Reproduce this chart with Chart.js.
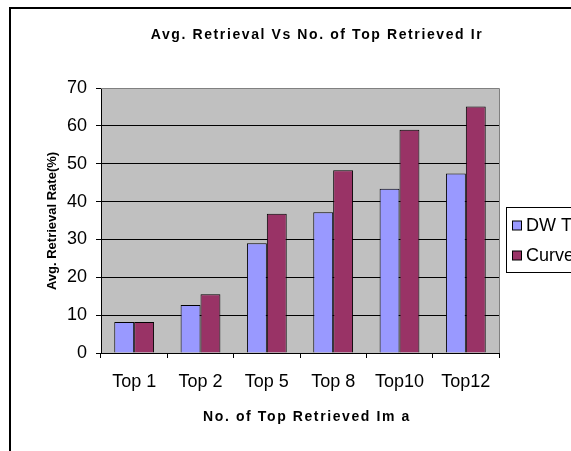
<!DOCTYPE html>
<html>
<head>
<meta charset="utf-8">
<script src="https://cdn.jsdelivr.net/npm/chart.js@4"></script>
<style>
  html, body { margin: 0; padding: 0; background: #fff; overflow: hidden; }
  #wrap { width: 571px; height: 451px; position: relative; }
</style>
</head>
<body>
<div id="wrap"><canvas id="c" width="571" height="451"></canvas></div>
<script>
const categories = ["Top 1", "Top 2", "Top 5", "Top 8", "Top10", "Top12"];
const dwtValues = [8.2, 12.7, 29.0, 37.2, 43.4, 47.4];
const curveletValues = [8.2, 15.5, 36.8, 48.3, 59.0, 65.1];
const seriesNames = ["DW T", "Curvelet"];
const chartTitle = "Avg. Retrieval Vs No. of Top Retrieved Ir";
const xTitle = "No. of Top Retrieved Im a";
const yTitle = "Avg. Retrieval Rate(%)";
const yTicks = [0, 10, 20, 30, 40, 50, 60, 70];

const FONT = "'Liberation Sans', Arial, sans-serif";

const decorPlugin = {
  id: 'decor',
  beforeDraw(chart) {
    const ctx = chart.ctx;
    ctx.save();
    ctx.strokeStyle = '#000';
    ctx.lineWidth = 2;
    ctx.beginPath();
    ctx.moveTo(10, 460);
    ctx.lineTo(10, 8);
    ctx.lineTo(580, 8);
    ctx.stroke();
    const a = chart.chartArea;
    ctx.fillStyle = '#C0C0C0';
    ctx.fillRect(a.left, a.top, a.right - a.left, a.bottom - a.top);
    ctx.restore();
  },
  afterDraw(chart) {
    const ctx = chart.ctx;
    const a = chart.chartArea;
    ctx.save();
    ctx.strokeStyle = '#808080';
    ctx.lineWidth = 1;
    ctx.beginPath();
    ctx.moveTo(a.left, a.top + 0.5);
    ctx.lineTo(a.right + 0.5, a.top + 0.5);
    ctx.lineTo(a.right + 0.5, a.bottom);
    ctx.stroke();

    ctx.fillStyle = '#000';
    ctx.textAlign = 'center';
    ctx.textBaseline = 'alphabetic';
    ctx.font = 'bold 14px ' + FONT;
    ctx.letterSpacing = '1.6px';
    ctx.fillText(chartTitle, 317, 39);
    ctx.fillText(xTitle, 307, 421);
    ctx.translate(56, 221);
    ctx.rotate(-Math.PI / 2);
    ctx.letterSpacing = '0px';
    ctx.font = 'bold 13px ' + FONT;
    ctx.fillText(yTitle, 0, 0);
    ctx.restore();

    ctx.save();
    ctx.strokeStyle = '#000';
    ctx.lineWidth = 1;
    ctx.strokeRect(506.5, 207.5, 120, 65);
    ctx.font = '18px ' + FONT;
    ctx.textAlign = 'left';
    ctx.textBaseline = 'middle';
    const ys = [225.5, 255.5];
    chart.data.datasets.forEach((ds, i) => {
      ctx.fillStyle = ds.backgroundColor;
      ctx.fillRect(512.5, ys[i] - 4.5, 9, 9);
      ctx.strokeRect(512.5, ys[i] - 4.5, 9, 9);
      ctx.fillStyle = '#000';
      ctx.fillText(ds.label, 526, ys[i] + 1);
    });
    ctx.restore();
  }
};

new Chart(document.getElementById('c'), {
  type: 'bar',
  data: {
    labels: categories,
    datasets: [
      { label: seriesNames[0], data: dwtValues, backgroundColor: '#9999FF', borderColor: '#000', borderWidth: 1 },
      { label: seriesNames[1], data: curveletValues, backgroundColor: '#993366', borderColor: '#000', borderWidth: 1 }
    ]
  },
  options: {
    responsive: false,
    animation: false,
    events: [],
    layout: { padding: { top: 88, right: 72, bottom: 0, left: 0 } },
    datasets: { bar: { categoryPercentage: 0.6, barPercentage: 1.0 } },
    plugins: { legend: { display: false }, title: { display: false }, tooltip: { enabled: false } },
    scales: {
      x: {
        grid: { display: true, offset: true, drawOnChartArea: false, color: '#000', tickLength: 5 },
        border: { display: true, color: '#000', width: 1 },
        ticks: { color: '#000', font: { family: FONT, size: 18 }, padding: 13, maxRotation: 0 },
        afterFit(s) { s.height = 98; }
      },
      y: {
        min: 0, max: 70,
        afterBuildTicks(s) { s.ticks = yTicks.map(v => ({ value: v })); },
        grid: { color: ctx => (ctx.tick && ctx.tick.value === 70 ? '#808080' : '#000'), tickLength: 5, tickColor: '#000' },
        border: { display: true, color: '#000', width: 1 },
        ticks: { color: '#000', font: { family: FONT, size: 18 }, padding: 9 },
        afterFit(s) { s.width = 101; }
      }
    }
  },
  plugins: [decorPlugin]
});
</script>
</body>
</html>
